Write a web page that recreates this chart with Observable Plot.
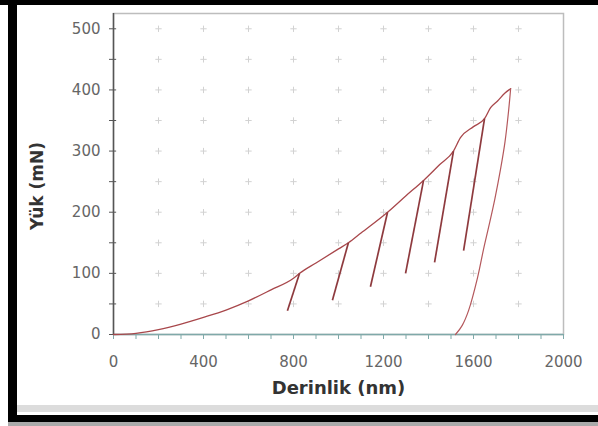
<!DOCTYPE html>
<html><head><meta charset="utf-8">
<script src="https://cdn.jsdelivr.net/npm/d3@7"></script>
<script src="https://cdn.jsdelivr.net/npm/@observablehq/plot@0.6"></script>
<style>
body{margin:0;background:#fff;}
#wrap{position:relative;width:598px;height:426px;overflow:hidden;background:#fff;}
.bar{position:absolute;background:#000;}
#chart{position:absolute;left:0;top:0;}
</style></head><body>
<div id="wrap">
<div class="bar" style="left:0;top:0;width:598px;height:5px"></div>
<div class="bar" style="left:8px;top:0;width:9px;height:422px"></div>
<div style="position:absolute;left:17px;top:405px;width:581px;height:7px;background:#dcdcdc"></div>
<div class="bar" style="left:8px;top:415px;width:590px;height:7px"></div>
<div style="position:absolute;left:8px;top:422px;width:590px;height:4px;background:#aaa"></div>
<div id="chart"></div>
</div>
<script>
// Loading envelope (depth nm, load mN)
const loadX = [0,100,200,300,400,500,600,700,800,827,900,1000,1044,1100,1218,1300,1378,1450,1511,1542,1600,1649,1676,1707,1740,1765];
const loadY = [0,2,8,17,28,40,55,73,92,100,117,140,150,166,200,227,252,278,300,322,340,353,371,382,395,402];
// Partial unloading segments
const peakX = [827,1044,1218,1378,1511,1649];
const peakY = [100,150,200,252,300,353];
const endX  = [773,973,1142,1298,1427,1556];
const endY  = [39,56,78,100,118,137];
// Final unloading
const unloadX = [1765,1756,1740,1720,1695,1670,1645,1618,1578,1550,1520];
const unloadY = [402,366,315,270,222,180,140,93,39,15,0];
// Axis ticks
const xTicks = [0,400,800,1200,1600,2000];
const yTicks = [0,100,200,300,400,500];
const xMinor = d3.range(0,2001,100);
const yMinor = d3.range(0,501,50);
const gridX = d3.range(200,1801,200);
const gridY = d3.range(50,501,50);

const loadData = loadX.map((x,i)=>({x, y: loadY[i]}));
const unloadData = unloadX.map((x,i)=>({x, y: unloadY[i]}));
const segs = peakX.map((x,i)=>({x1:x, y1:peakY[i], x2:endX[i], y2:endY[i]}));
const grid = gridX.flatMap(x=>gridY.map(y=>({x,y})));
const lineColor = "#a8474b";
const fmt = d => String(d);

const chart = Plot.plot({
  width: 598, height: 426,
  marginLeft: 113, marginRight: 35, marginTop: 13, marginBottom: 92,
  style: {background: "transparent", fontFamily: "DejaVu Sans", fontSize: "15px", color: "#666"},
  x: {domain: [0,2000]},
  y: {domain: [0,525]},
  marks: [
    Plot.frame({stroke: "#bdbdbd", strokeWidth: 1.5}),
    Plot.dot(grid, {x:"x", y:"y", symbol:"plus", r:2.2, stroke:"#d2d2d2", strokeWidth:1}),
    Plot.axisX({ticks: xMinor, tickSize: 5, tickFormat: () => "", stroke: "#7fa9a9"}),
    Plot.axisX({ticks: xTicks, tickSize: 0, tickPadding: 22, tickFormat: fmt, fill: "#666", fontSize: 15}),
    Plot.axisY({ticks: yMinor, tickSize: 4, tickFormat: () => "", stroke: "#555"}),
    Plot.ruleY(yMinor, {x1: 0, x2: 14, stroke: "#555"}),
    Plot.axisY({ticks: yTicks, tickSize: 0, tickPadding: 13, tickFormat: fmt, fill: "#666", fontSize: 15}),
    Plot.ruleY([0], {stroke: "#7fa9a9", strokeWidth: 1.5}),
    Plot.ruleX([0], {stroke: "#555", strokeWidth: 1.5}),
    Plot.line(loadData, {x:"x", y:"y", stroke: lineColor, strokeWidth: 1.3, curve: "monotone-x"}),
    Plot.line(unloadData, {x:"x", y:"y", stroke: "#b4585c", strokeWidth: 1.2, curve: "catmull-rom"}),
    Plot.link(segs, {x1:"x1", y1:"y1", x2:"x2", y2:"y2", stroke: "#8e3a3e", strokeWidth: 1.7}),
    Plot.text(["Yük (mN)"], {frameAnchor: "left", dx: -76, dy: 12, rotate: -90, textAnchor: "middle", lineAnchor: "middle", fontWeight: "bold", fontSize: 17, fill: "#333"}),
    Plot.text(["Derinlik (nm)"], {frameAnchor: "bottom", dy: 54, lineAnchor: "middle", fontWeight: "bold", fontSize: 18, fill: "#333"})
  ]
});
document.getElementById("chart").appendChild(chart);
</script>
</body></html>
